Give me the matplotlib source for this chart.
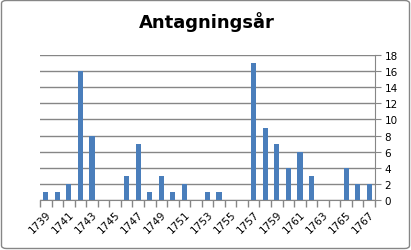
import matplotlib
matplotlib.use("Agg")
import matplotlib.pyplot as plt
from matplotlib.patches import FancyBboxPatch
import numpy as np

years = list(range(1739, 1768))
counts = [1, 1, 2, 16, 8, 0, 0, 3, 7, 1, 3, 1, 2, 0, 1, 1, 0, 0,
          17, 9, 7, 4, 6, 3, 0, 0, 4, 2, 2]
title = "Antagningsår"
yticks = list(range(0, 19, 2))

fig = plt.figure(figsize=(4.11, 2.51), dpi=100)
ax = fig.add_axes([40/411, 1-201/251, 335/411, 145/251])

x = np.arange(len(years))
ax.bar(x, counts, width=0.45, color="#4A7EBB", zorder=3)
ax.set_xlim(-0.5, len(years) - 0.5)
ax.set_ylim(0, 18)
ax.yaxis.tick_right()
ax.set_yticks(yticks)
ax.grid(axis="y", color="#868686", linewidth=1, zorder=0)

ax.set_xticks(np.arange(-0.5, len(years), 1), minor=False)
ax.set_xticklabels([])
ax.set_xticks(x[::2], minor=True)
ax.set_xticklabels([str(y) for y in years[::2]], minor=True, rotation=45,
                   ha="right", va="top", rotation_mode="anchor", fontsize=7.5)
ax.tick_params(axis="x", which="major", length=5, color="#868686", width=1)
ax.tick_params(axis="x", which="minor", length=0, pad=6)
ax.tick_params(axis="y", length=4, color="#868686", labelsize=7.5, pad=3)

for s in ["top", "left"]:
    ax.spines[s].set_visible(False)
ax.spines["bottom"].set_color("#868686")
ax.spines["right"].set_color("#868686")

fig.text(207/411, 1-22/251, title, ha="center", va="center",
         fontsize=13, fontweight="bold")
fig.patches.append(FancyBboxPatch((1.5/411, 1.5/251), 1-3/411, 1-3/251,
                                  boxstyle="round,pad=0,rounding_size=0.012",
                                  transform=fig.transFigure, fill=False,
                                  edgecolor="#868686", linewidth=1))
fig.savefig("out.png", dpi=100)
